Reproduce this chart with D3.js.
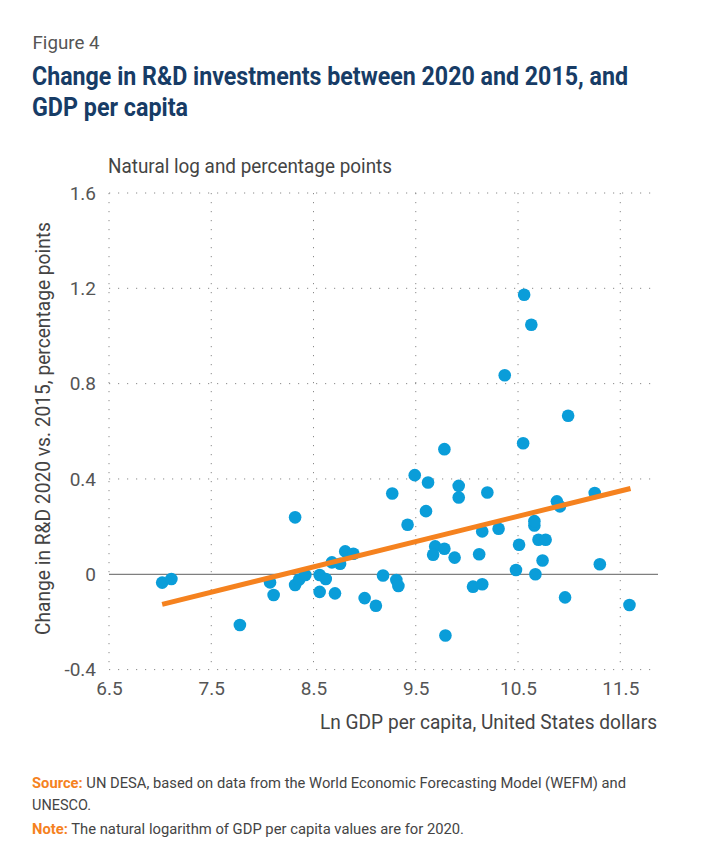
<!DOCTYPE html>
<html><head><meta charset="utf-8">
<script src="https://cdn.jsdelivr.net/npm/d3@7"></script>
<style>body{margin:0;background:#fff}svg{display:block}text{font-family:Roboto,"Noto Sans",sans-serif}</style>
</head><body><svg id="c" width="717" height="862"></svg>
<script>
const gdp = [7.02,7.11,7.78,8.075,8.11,8.32,8.32,8.36,8.42,8.56,8.62,8.56,8.71,8.68,8.76,8.81,8.89,9.00,9.11,9.18,9.31,9.33,9.27,9.49,9.42,9.78,9.62,9.60,9.69,9.67,9.78,9.88,9.92,9.92,9.79,10.06,10.15,10.12,10.15,10.20,10.31,10.55,10.51,10.48,10.67,10.66,10.66,10.70,10.77,10.74,10.88,10.91,10.96,11.25,11.30,11.59,10.56,10.63,10.37,10.99];
const rnd = [-0.035,-0.02,-0.213,-0.034,-0.087,0.239,-0.045,-0.022,-0.003,-0.003,-0.02,-0.074,-0.08,0.05,0.044,0.096,0.086,-0.10,-0.132,-0.005,-0.024,-0.049,0.339,0.416,0.208,0.525,0.385,0.265,0.117,0.082,0.107,0.070,0.371,0.322,-0.257,-0.052,-0.042,0.084,0.18,0.343,0.191,0.55,0.124,0.018,0.0,0.205,0.223,0.145,0.145,0.058,0.306,0.285,-0.097,0.341,0.042,-0.129,1.173,1.047,0.835,0.665];
const trendX = [7.02, 11.6];
const trendY = [-0.126, 0.36];
const xTicks = [6.5,7.5,8.5,9.5,10.5,11.5];
const yTicks = [-0.4,0,0.4,0.8,1.2,1.6];
const xTickLabels = ["6.5","7.5","8.5","9.5","10.5","11.5"];
const yTickLabels = ["-0.4","0","0.4","0.8","1.2","1.6"];

const svg = d3.select("#c");
const x = d3.scaleLinear().domain([6.5, 11.82]).range([109, 653]);
const y = d3.scaleLinear().domain([-0.4, 1.6]).range([669.6, 193]);

function txt(s, px, py, opts){
  const t = svg.append("text").attr("x", px).attr("y", py).text(s);
  for (const k in opts) t.attr(k, opts[k]);
  return t;
}
// header
txt("Figure 4", 32.5, 49, {"font-size":19, fill:"#555", textLength:67, lengthAdjust:"spacingAndGlyphs"});
txt("Change in R&D investments between 2020 and 2015, and", 32, 84.5, {"font-size":25,"font-weight":"bold",fill:"#173c66",textLength:596,lengthAdjust:"spacingAndGlyphs"});
txt("GDP per capita", 32, 116, {"font-size":25,"font-weight":"bold",fill:"#173c66",textLength:156,lengthAdjust:"spacingAndGlyphs"});
txt("Natural log and percentage points", 108, 173, {"font-size":20, fill:"#444", textLength:284, lengthAdjust:"spacingAndGlyphs"});

// grid
const g = svg.append("g");
g.selectAll("line.hg").data(yTicks.filter(d=>d!==0)).join("line")
  .attr("x1", x(6.5)).attr("x2", 653).attr("y1", d=>y(d)).attr("y2", d=>y(d))
  .attr("stroke","#8a8a8a").attr("stroke-width",1).attr("stroke-dasharray","1.2,7.8");
g.selectAll("line.vg").data(xTicks).join("line")
  .attr("x1", d=>x(d)).attr("x2", d=>x(d)).attr("y1", y(1.6)).attr("y2", y(-0.4))
  .attr("stroke","#8a8a8a").attr("stroke-width",1).attr("stroke-dasharray","1.2,7.8");
g.append("line").attr("x1", x(6.5)).attr("x2", 658).attr("y1", y(0)).attr("y2", y(0))
  .attr("stroke","#7f7f7f").attr("stroke-width",1.2);

// axes labels
const ya = d3.axisLeft(y).tickValues(yTicks).tickFormat((d,i)=>yTickLabels[i]).tickSize(0).tickPadding(13);
const yg = svg.append("g").attr("transform",`translate(${x(6.5)},0)`).call(ya);
yg.select(".domain").remove();
yg.selectAll("text").attr("font-size",19).attr("fill","#555").attr("font-family","Roboto");
const xa = d3.axisBottom(x).tickValues(xTicks).tickFormat((d,i)=>xTickLabels[i]).tickSize(0).tickPadding(10);
const xg = svg.append("g").attr("transform",`translate(0,${y(-0.4)+2})`).call(xa);
xg.select(".domain").remove();
xg.selectAll("text").attr("font-size",19).attr("fill","#555").attr("font-family","Roboto");

txt("Ln GDP per capita, United States dollars", 657, 729, {"font-size":20, fill:"#444","text-anchor":"end", textLength:337, lengthAdjust:"spacingAndGlyphs"});
svg.append("text").attr("transform","translate(50,428.5) rotate(-90)").attr("text-anchor","middle")
  .attr("font-size",20).attr("fill","#444").attr("textLength",413).attr("lengthAdjust","spacingAndGlyphs")
  .text("Change in R&D 2020 vs. 2015, percentage points");

// points
const pts = gdp.map((d,i)=>({x:d, y:rnd[i]}));
svg.append("g").selectAll("circle").data(pts).join("circle")
  .attr("cx", d=>x(d.x)).attr("cy", d=>y(d.y)).attr("r", 6.3).attr("fill","#0a9dd9");

// trend
svg.append("line").attr("x1", x(trendX[0])).attr("y1", y(trendY[0])).attr("x2", x(trendX[1])).attr("y2", y(trendY[1]))
  .attr("stroke","#f5821f").attr("stroke-width",5);

// footer
const f1 = svg.append("text").attr("x",32).attr("y",788).attr("font-size",15.5).attr("fill","#444")
  .attr("textLength",594).attr("lengthAdjust","spacingAndGlyphs");
f1.append("tspan").attr("fill","#f5821f").attr("font-weight","bold").text("Source:");
f1.append("tspan").text(" UN DESA, based on data from the World Economic Forecasting Model (WEFM) and");
txt("UNESCO.", 32, 810, {"font-size":15.5, fill:"#444", textLength:59, lengthAdjust:"spacingAndGlyphs"});
const f3 = svg.append("text").attr("x",32).attr("y",833.5).attr("font-size",15.5).attr("fill","#444")
  .attr("textLength",432).attr("lengthAdjust","spacingAndGlyphs");
f3.append("tspan").attr("fill","#f5821f").attr("font-weight","bold").text("Note:");
f3.append("tspan").text(" The natural logarithm of GDP per capita values are for 2020.");
</script></body></html>
